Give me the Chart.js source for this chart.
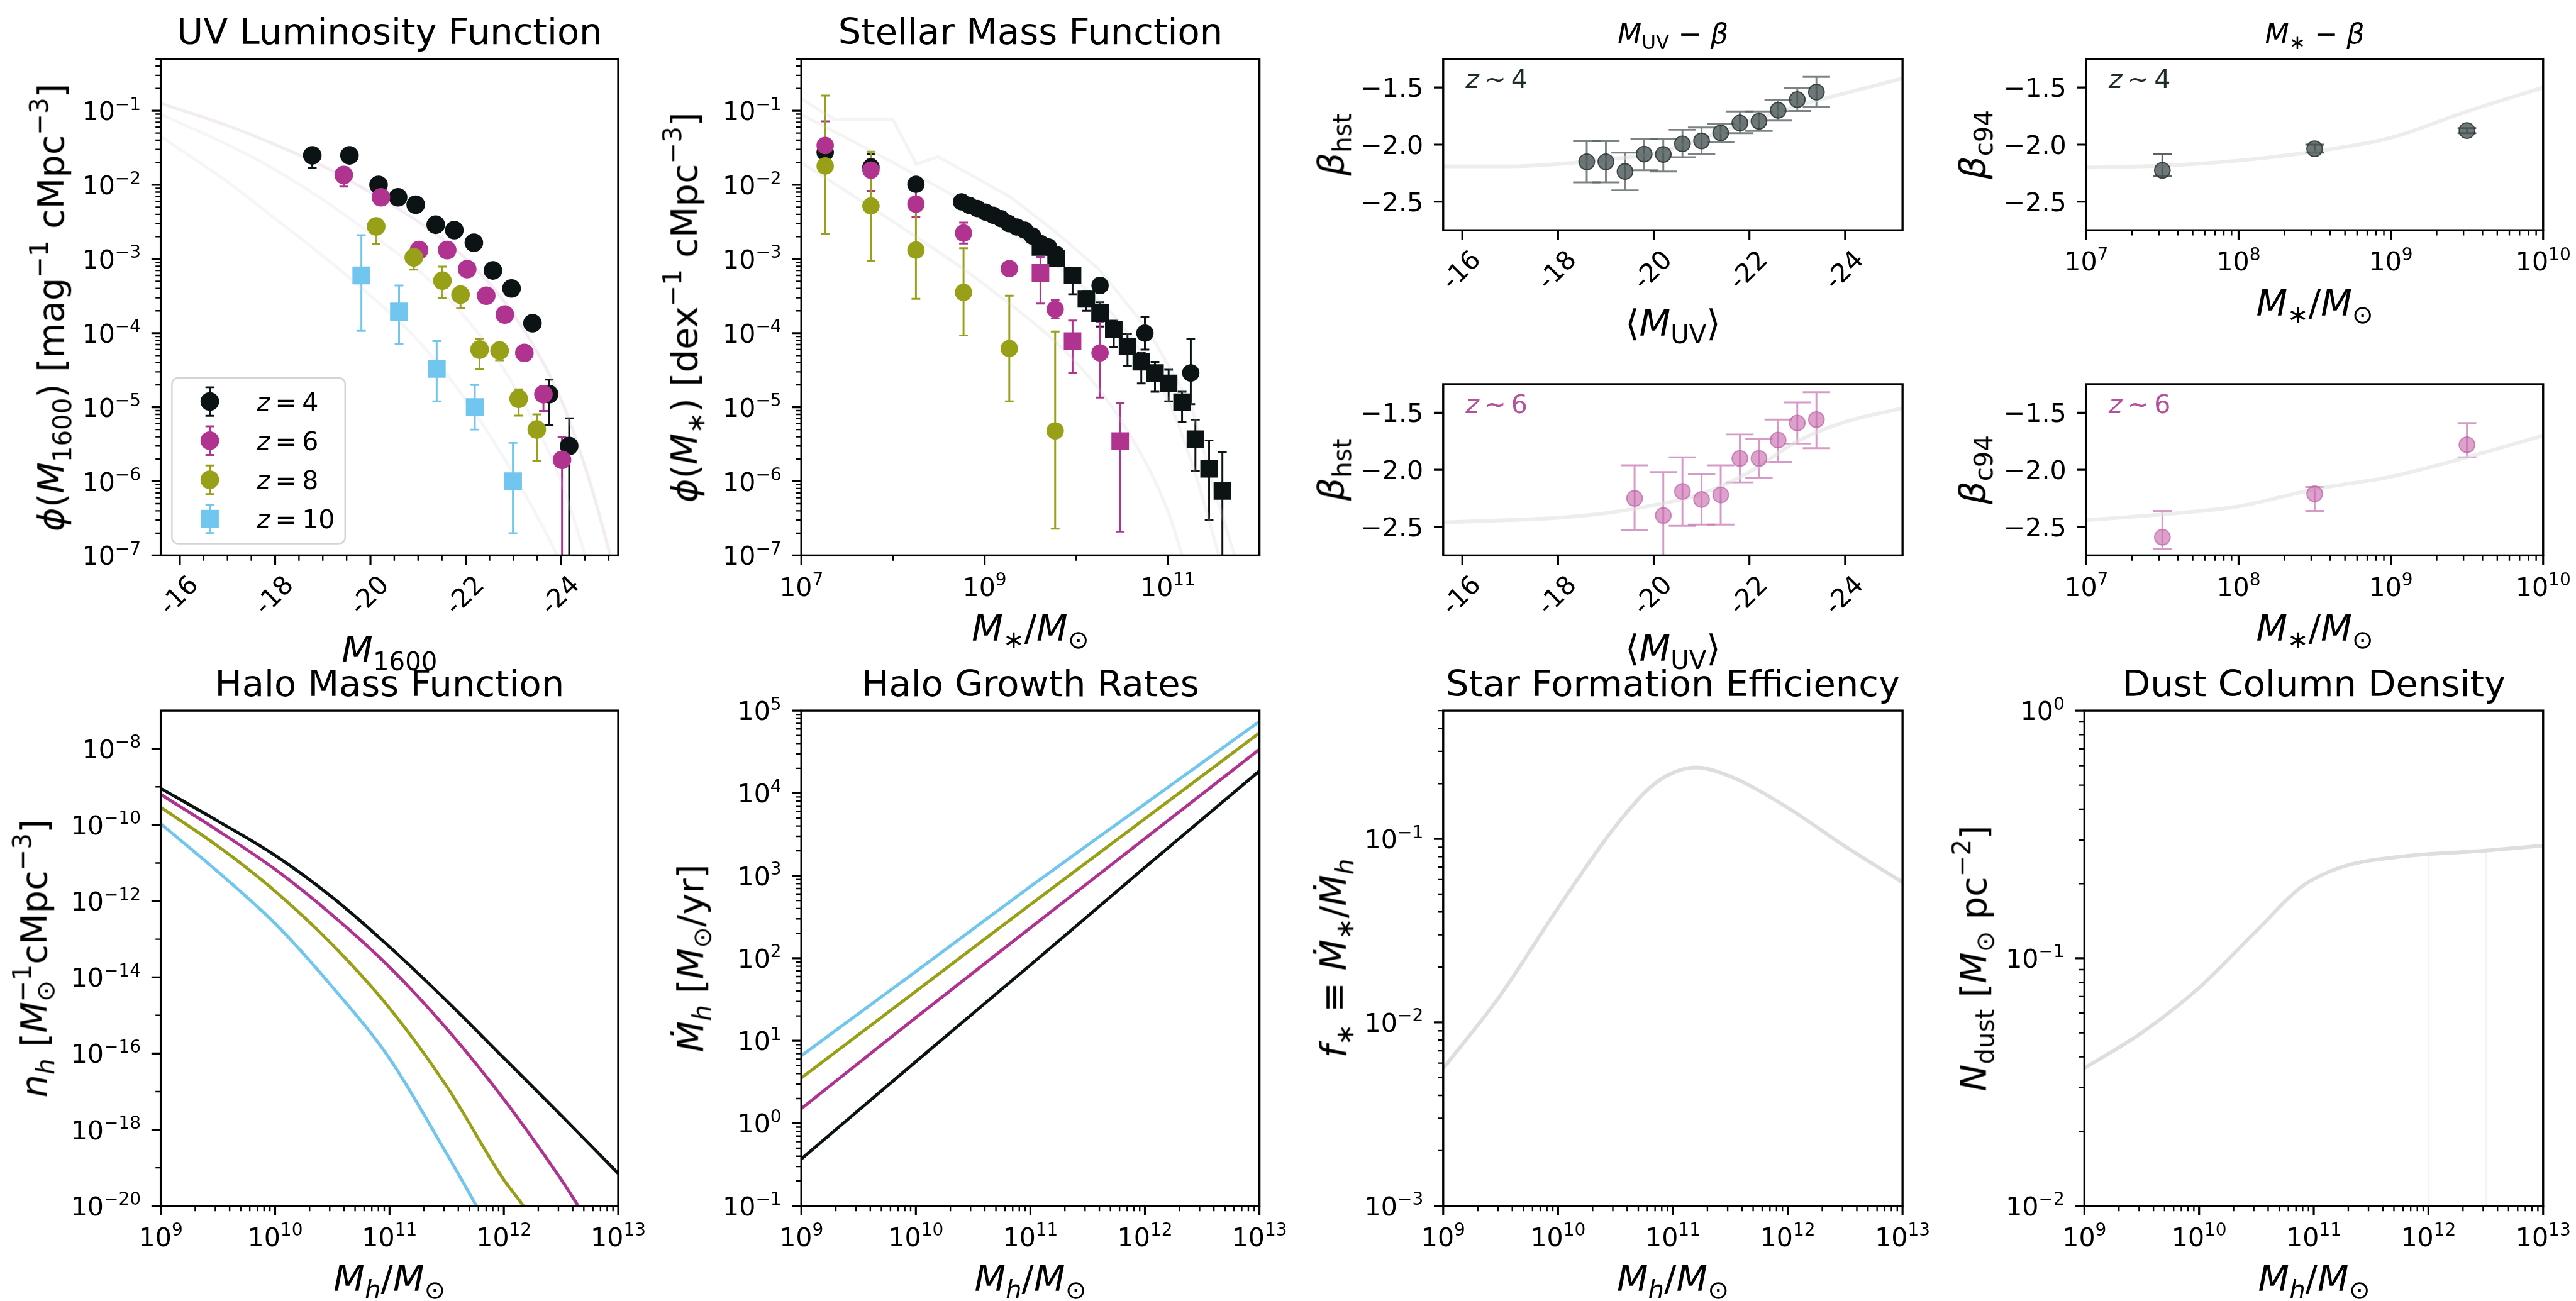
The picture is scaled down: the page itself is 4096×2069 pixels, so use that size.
<!DOCTYPE html>
<html lang="en">
<head>
<meta charset="utf-8">
<title>Luminosity, mass and halo model panels</title>
<script src="https://cdn.jsdelivr.net/npm/chart.js@4.4.1/dist/chart.umd.min.js"></script>
<style>
  html, body { margin: 0; padding: 0; background: #fff; overflow: hidden; }
  #fig { position: relative; width: 4096px; height: 2069px; overflow: hidden; background: #fff;
         font-family: "DejaVu Sans", sans-serif; color: #000; }
  #fig canvas { position: absolute; }
  .lb { position: absolute; white-space: nowrap; line-height: 1; z-index: 2; }
  .lb i { font-style: italic; }
  .lb sub, .lb sup { font-size: 0.7em; line-height: 0; vertical-align: baseline; position: relative; }
  .lb sub { top: 0.3em; }
  .lb sup { top: -0.62em; }
  .lb sup.o { margin-left: -0.84em; }
  .rot { transform: translate(-50%, -50%) rotate(-90deg); }
  .ctr { transform: translateX(-50%); }
</style>
</head>
<body>
<div id="fig"></div>
<script>
const S = 0.987;

// colours per redshift
const colZ4 = '#0b1315';
const colZ6 = '#b0348f';
const colZ8 = '#97a016';
const colZ10 = '#70c6ee';

// ---- UV luminosity function ----
const uvMagZ4 = [-18.78, -19.56, -20.17, -20.58, -20.95, -21.37, -21.76, -22.17, -22.57, -22.96, -23.40, -23.75, -24.17];
const uvPhiZ4 = [2.5e-2, 2.5e-2, 1.0e-2, 6.8e-3, 5.4e-3, 2.9e-3, 2.45e-3, 1.66e-3, 7.0e-4, 4.0e-4, 1.36e-4, 1.5e-5, 3.0e-6];
const uvLoZ4  = [1.7e-2, 2.1e-2, 8.5e-3, 5.9e-3, 4.7e-3, 2.5e-3, 2.1e-3, 1.42e-3, 5.9e-4, 3.3e-4, 1.1e-4, 5.8e-6, 1e-9];
const uvHiZ4  = [3.0e-2, 2.9e-2, 1.15e-2, 7.7e-3, 6.1e-3, 3.3e-3, 2.8e-3, 1.9e-3, 8.2e-4, 4.8e-4, 1.6e-4, 2.35e-5, 7.1e-6];

const uvMagZ6 = [-19.44, -20.22, -21.02, -21.61, -22.03, -22.43, -22.82, -23.23, -23.63, -24.02];
const uvPhiZ6 = [1.36e-2, 6.8e-3, 1.32e-3, 1.32e-3, 7.3e-4, 3.2e-4, 1.78e-4, 5.4e-5, 1.5e-5, 1.95e-6];
const uvLoZ6  = [9.5e-3, 5.9e-3, 1.15e-3, 1.15e-3, 6.4e-4, 2.8e-4, 1.55e-4, 4.6e-5, 8.9e-6, 1e-9];
const uvHiZ6  = [1.6e-2, 7.8e-3, 1.5e-3, 1.5e-3, 8.3e-4, 3.7e-4, 2.0e-4, 6.2e-5, 1.8e-5, 4.0e-6];

const uvMagZ8 = [-20.12, -20.91, -21.51, -21.89, -22.29, -22.71, -23.11, -23.49];
const uvPhiZ8 = [2.75e-3, 1.05e-3, 5.1e-4, 3.3e-4, 6.0e-5, 5.8e-5, 1.3e-5, 5.0e-6];
const uvLoZ8  = [1.6e-3, 7.2e-4, 3.0e-4, 2.2e-4, 3.3e-5, 4.3e-5, 7.7e-6, 1.9e-6];
const uvHiZ8  = [3.5e-3, 1.3e-3, 7.9e-4, 4.0e-4, 8.3e-5, 7.4e-5, 1.74e-5, 8.0e-6];

const uvMagZ10 = [-19.81, -20.60, -21.39, -22.19, -22.99];
const uvPhiZ10 = [6.0e-4, 1.95e-4, 3.3e-5, 1.0e-5, 1.0e-6];
const uvLoZ10  = [1.07e-4, 7.1e-5, 1.2e-5, 5.0e-6, 2.0e-7];
const uvHiZ10  = [2.1e-3, 4.4e-4, 7.8e-5, 2.0e-5, 3.3e-6];

// faint model curves behind the UV points
const uvModelMag = [-15.6, -17, -18, -19, -20, -21, -22, -23, -24, -24.6, -25.2];
const uvModelA = [0.126, 0.063, 0.035, 0.018, 7.9e-3, 3.2e-3, 1.0e-3, 1.8e-4, 1.26e-5, 1.0e-6, 4.0e-8];
const uvModelB = [8.9e-2, 3.5e-2, 1.6e-2, 6.3e-3, 2.2e-3, 7.1e-4, 1.6e-4, 2.0e-5, 1.0e-6, 6.3e-8, 3.2e-9];
const uvModelC = [4.5e-2, 1.1e-2, 3.5e-3, 1.1e-3, 3.2e-4, 7.9e-5, 1.26e-5, 1.26e-6, 7.9e-8, 1e-8, 1e-9];

// ---- stellar mass function ----
const smMassZ4c = [1.82e7, 5.75e7, 1.78e8, 5.6e8, 6.8e8, 8.3e8, 1.02e9, 1.24e9, 1.51e9, 1.84e9, 2.25e9, 2.74e9, 3.34e9, 4.08e9, 4.98e9, 6.07e9, 1.82e10, 5.62e10, 1.78e11];
const smPhiZ4c  = [2.75e-2, 1.74e-2, 1.02e-2, 5.9e-3, 5.3e-3, 4.8e-3, 4.3e-3, 3.9e-3, 3.5e-3, 3.0e-3, 2.7e-3, 2.45e-3, 2.04e-3, 1.62e-3, 1.45e-3, 1.15e-3, 4.4e-4, 1.0e-4, 2.9e-5];
const smLoZ4c   = [2.2e-2, 1.45e-2, 8.8e-3, 5.4e-3, 4.9e-3, 4.4e-3, 3.9e-3, 3.5e-3, 3.2e-3, 2.7e-3, 2.4e-3, 2.2e-3, 1.8e-3, 1.4e-3, 1.25e-3, 9.8e-4, 3.5e-4, 6.0e-5, 1.1e-5];
const smHiZ4c   = [3.3e-2, 2.6e-2, 1.2e-2, 6.4e-3, 5.8e-3, 5.2e-3, 4.7e-3, 4.3e-3, 3.8e-3, 3.3e-3, 3.0e-3, 2.7e-3, 2.3e-3, 1.85e-3, 1.65e-3, 1.35e-3, 5.4e-4, 1.66e-4, 8.3e-5];

const smMassZ4s = [4.07e9, 6.03e9, 9.12e9, 1.29e10, 1.82e10, 2.57e10, 3.63e10, 5.13e10, 7.24e10, 1.02e11, 1.43e11, 2.0e11, 2.82e11, 3.94e11];
const smPhiZ4s  = [1.45e-3, 1.02e-3, 6.0e-4, 2.9e-4, 1.86e-4, 1.12e-4, 6.6e-5, 4.1e-5, 2.9e-5, 2.1e-5, 1.17e-5, 3.7e-6, 1.48e-6, 7.4e-7];
const smLoZ4s   = [1.25e-3, 8.6e-4, 3.35e-4, 2.0e-4, 1.23e-4, 6.5e-5, 3.6e-5, 2.1e-5, 1.62e-5, 1.2e-5, 6.3e-6, 1.38e-6, 3.0e-7, 1e-9];
const smHiZ4s   = [1.65e-3, 1.2e-3, 7.6e-4, 3.7e-4, 2.6e-4, 1.47e-4, 9.8e-5, 5.5e-5, 4.1e-5, 3.2e-5, 1.62e-5, 6.8e-6, 3.55e-6, 2.5e-6];

const smMassZ6c = [1.82e7, 5.75e7, 1.78e8, 5.89e8, 1.86e9, 5.89e9, 1.82e10];
const smPhiZ6c  = [3.4e-2, 1.58e-2, 5.5e-3, 2.24e-3, 7.4e-4, 2.1e-4, 5.4e-5];
const smLoZ6c   = [2.4e-2, 8.3e-3, 3.7e-3, 1.62e-3, 6.3e-4, 1.58e-4, 1.35e-5];
const smHiZ6c   = [7.2e-2, 2.24e-2, 8.3e-3, 3.1e-3, 8.5e-4, 2.8e-4, 1.4e-4];

const smMassZ6s = [4.07e9, 9.12e9, 3.02e10];
const smPhiZ6s  = [6.5e-4, 7.8e-5, 3.5e-6];
const smLoZ6s   = [2.5e-4, 2.9e-5, 2.1e-7];
const smHiZ6s   = [1.07e-3, 1.48e-4, 1.14e-5];

const smMassZ8 = [1.82e7, 5.75e7, 1.78e8, 5.89e8, 1.86e9, 5.89e9];
const smPhiZ8  = [1.8e-2, 5.2e-3, 1.32e-3, 3.55e-4, 6.2e-5, 4.8e-6];
const smLoZ8   = [2.2e-3, 9.5e-4, 2.9e-4, 9.3e-5, 1.2e-5, 2.3e-7];
const smHiZ8   = [1.6e-1, 2.8e-2, 5.5e-3, 1.4e-3, 3.2e-4, 1.05e-4];

// faint model curves behind the mass function
const smModelMassA = [1e7, 2.3e7, 1e8, 1.8e8, 3.1e8, 1.9e9, 6e9, 1.8e10, 6e10, 1.8e11, 3.2e11, 6e11];
const smModelA     = [0.145, 0.076, 0.076, 0.019, 0.024, 6.9e-3, 2.3e-3, 7.1e-4, 1.12e-4, 1.07e-5, 7.9e-7, 6.3e-8];
const smModelMassB = [1e7, 1e8, 1e9, 1e10, 3.16e10, 1e11, 2e11, 4e11];
const smModelB     = [0.089, 0.02, 4.0e-3, 5.0e-4, 1.26e-4, 1.26e-5, 1.26e-6, 6.3e-8];
const smModelMassC = [1e7, 1e8, 1e9, 1e10, 3.16e10, 1e11, 1.6e11];
const smModelC     = [0.02, 3.2e-3, 4.5e-4, 4.0e-5, 6.3e-6, 4.0e-7, 6.3e-8];

// ---- UV slope vs magnitude ----
const betaMagZ4 = [-18.6, -19.0, -19.4, -19.8, -20.2, -20.6, -21.0, -21.4, -21.8, -22.2, -22.6, -23.0, -23.4];
const betaHstZ4 = [-2.15, -2.15, -2.235, -2.083, -2.086, -1.993, -1.967, -1.897, -1.811, -1.795, -1.699, -1.606, -1.54];
const betaHstHiZ4 = [-1.97, -1.97, -2.07, -1.95, -1.95, -1.87, -1.85, -1.82, -1.71, -1.71, -1.606, -1.503, -1.407];
const betaHstLoZ4 = [-2.33, -2.33, -2.40, -2.225, -2.235, -2.11, -2.086, -1.98, -1.90, -1.88, -1.79, -1.705, -1.67];

const betaMagZ6 = [-19.6, -20.2, -20.6, -21.0, -21.4, -21.8, -22.2, -22.6, -23.0, -23.4];
const betaHstZ6 = [-2.25, -2.40, -2.19, -2.26, -2.22, -1.90, -1.90, -1.74, -1.59, -1.56];
const betaHstHiZ6 = [-1.96, -2.02, -1.89, -2.04, -1.96, -1.69, -1.73, -1.56, -1.41, -1.32];
const betaHstLoZ6 = [-2.53, -2.95, -2.49, -2.48, -2.48, -2.11, -2.07, -1.93, -1.77, -1.81];

const betaModelMag = [-15.6, -17, -18, -19, -20, -21, -22, -23, -24, -25.2];
const betaModelZ4 = [-2.19, -2.19, -2.17, -2.13, -2.08, -1.95, -1.80, -1.66, -1.55, -1.42];
const betaModelZ6 = [-2.46, -2.44, -2.42, -2.38, -2.31, -2.21, -2.02, -1.75, -1.58, -1.46];

// ---- UV slope vs stellar mass ----
const betaMass = [3.16e7, 3.16e8, 3.16e9];
const betaC94Z4 = [-2.225, -2.036, -1.877];
const betaC94HiZ4 = [-2.086, -2.0, -1.855];
const betaC94LoZ4 = [-2.275, -2.07, -1.90];
const betaC94Z6 = [-2.59, -2.21, -1.78];
const betaC94HiZ6 = [-2.36, -2.15, -1.59];
const betaC94LoZ6 = [-2.69, -2.36, -1.89];

const betaModelMass = [1e7, 3.16e7, 1e8, 3.16e8, 1e9, 3.16e9, 1e10];
const betaMassModelZ4 = [-2.20, -2.185, -2.14, -2.06, -1.94, -1.71, -1.50];
const betaMassModelZ6 = [-2.44, -2.39, -2.32, -2.17, -2.06, -1.89, -1.70];

// ---- halo mass function ----
const hmfMassZ4 = [1e9, 3.16e9, 1e10, 3.16e10, 1e11, 3.16e11, 1e12, 3.16e12, 1e13];
const hmfZ4 = [9.1e-10, 1.26e-10, 1.58e-11, 1.26e-12, 6.3e-14, 2.4e-15, 7.6e-17, 2.4e-18, 7.1e-20];
const hmfMassZ6 = [1e9, 3.16e9, 1e10, 3.16e10, 1e11, 3.16e11, 1e12, 3.16e12, 4.47e12, 5e12];
const hmfZ6 = [6.3e-10, 7.1e-11, 6.8e-12, 4.3e-13, 1.86e-14, 4.5e-16, 6.3e-18, 5.0e-20, 1.0e-20, 5.9e-21];
const hmfMassZ8 = [1e9, 3.16e9, 1e10, 3.16e10, 1e11, 3.16e11, 1e12, 1.48e12, 1.78e12];
const hmfZ8 = [2.9e-10, 2.75e-11, 1.82e-12, 7.2e-14, 1.55e-15, 1.38e-17, 4.8e-20, 1.0e-20, 4.0e-21];
const hmfMassZ10 = [1e9, 3.16e9, 1e10, 3.16e10, 1e11, 3.16e11, 5.75e11, 7.08e11];
const hmfZ10 = [1.07e-10, 5.9e-12, 2.57e-13, 5.6e-15, 7.4e-17, 2.34e-19, 1.0e-20, 3.2e-21];

// ---- halo growth rates ----
const growthMass = [1e9, 1e10, 1e11, 1e12, 1e13];
const growthZ4 = [0.37, 5.6, 83, 1260, 18600];
const growthZ6 = [1.51, 19.1, 234, 2820, 33900];
const growthZ8 = [3.55, 39.8, 447, 4900, 53700];
const growthZ10 = [6.6, 69, 741, 7410, 74100];

// ---- star formation efficiency ----
const sfeMass = [1e9, 3.16e9, 1e10, 3.16e10, 6.3e10, 1e11, 1.58e11, 3.16e11, 1e12, 3.16e12, 1e13];
const sfeEff = [5.6e-3, 1.41e-2, 4.2e-2, 0.117, 0.19, 0.229, 0.245, 0.219, 0.148, 0.091, 0.058];

// ---- dust column density ----
const dustMass = [1e9, 3.16e9, 1e10, 3.16e10, 7.9e10, 1.78e11, 5.6e11, 3.16e12, 1e13];
const dustCol = [0.036, 0.050, 0.076, 0.129, 0.195, 0.234, 0.257, 0.272, 0.285];
const dustMarkMass = [1e12, 3.16e12];
const dustMarkTop = [0.262, 0.272];

// ---- tick helpers ----
function decades(e0, e1, step = 1) { const t = []; for (let e = e0; e <= e1; e += step) t.push(Math.pow(10, e)); return t; }
function exps(e0, e1, step = 1) { const t = []; for (let e = e0; e <= e1; e += step) t.push(e); return t; }
function logMinor(e0, e1) { const t = []; for (let e = e0; e <= e1; e++) for (let k = 2; k <= 9; k++) t.push(k * Math.pow(10, e)); return t; }
const magTicks = [-16, -18, -20, -22, -24];
const magLabels = ['-16', '-18', '-20', '-22', '-24'];
const magMinor = [];
for (let m = -15.5; m >= -25; m -= 0.5) if (m % 2 !== 0) magMinor.push(m);
const betaTicks = [-1.5, -2.0, -2.5];
const betaLabels = ['\u22121.5', '\u22122.0', '\u22122.5'];

const pts = (xs, ys) => xs.map((x, i) => ({ x, y: ys[i] }));

function markers(xs, ys, lo, hi, o) {
  return {
    data: pts(xs, ys), errLo: lo, errHi: hi,
    pointStyle: o.style || 'circle', pointRadius: o.r * S,
    backgroundColor: o.fill, borderColor: o.edge || o.fill, borderWidth: (o.bw || 0) * S,
    errColor: o.err || o.fill, errWidth: o.ew || 3, cap: o.cap || 7, order: o.order
  };
}
function curve(xs, ys, color, w, order, smooth = true) {
  return {
    data: pts(xs, ys), showLine: true, pointRadius: 0, borderColor: color, borderWidth: w * S,
    cubicInterpolationMode: smooth ? 'monotone' : 'default', tension: 0, order, clip: 0
  };
}

// ---- canvas drawing helpers ----
const TICK_F = 41.7 * S;
function tickText(ctx, lab, x, y, F, align) {
  ctx.textBaseline = 'alphabetic';
  if (typeof lab === 'number') {
    const e = lab < 0 ? '\u2212' + (-lab) : String(lab);
    const Fe = F * 0.68;
    ctx.font = `${F}px "DejaVu Sans"`;
    const wb = ctx.measureText('10').width;
    ctx.font = `${Fe}px "DejaVu Sans"`;
    const we = ctx.measureText(e).width;
    const x0 = align === 'right' ? x - wb - we : x - (wb + we) / 2;
    ctx.textAlign = 'left';
    ctx.font = `${F}px "DejaVu Sans"`;
    ctx.fillText('10', x0, y);
    ctx.font = `${Fe}px "DejaVu Sans"`;
    ctx.fillText(e, x0 + wb, y - 0.40 * F);
  } else {
    ctx.font = `${F}px "DejaVu Sans"`;
    ctx.textAlign = align;
    ctx.fillText(lab, x, y);
  }
}
function mathText(ctx, parts, x, y, F, color) {
  ctx.fillStyle = color;
  ctx.textAlign = 'left';
  ctx.textBaseline = 'alphabetic';
  parts.forEach(([s, it]) => {
    ctx.font = `${it ? 'italic ' : ''}${F}px "DejaVu Sans"`;
    ctx.fillText(s, x, y);
    x += ctx.measureText(s).width + 0.2 * F;
  });
}
function drawLegend(ctx, a, L) {
  const x = a.left + L.x * S, y = a.top + L.y * S;
  ctx.beginPath();
  ctx.roundRect(x, y, L.w * S, L.h * S, 10 * S);
  ctx.fillStyle = 'rgba(255,255,255,0.85)';
  ctx.fill();
  ctx.lineWidth = 2.5 * S;
  ctx.strokeStyle = '#d4d4d4';
  ctx.stroke();
  L.rows.forEach(([dy, color, shape, z]) => {
    const cx = a.left + L.mx * S, cy = a.top + dy * S, h = 23 * S, c = 7 * S;
    ctx.strokeStyle = color;
    ctx.lineWidth = 3 * S;
    ctx.beginPath();
    ctx.moveTo(cx, cy - h); ctx.lineTo(cx, cy + h);
    ctx.moveTo(cx - c, cy - h); ctx.lineTo(cx + c, cy - h);
    ctx.moveTo(cx - c, cy + h); ctx.lineTo(cx + c, cy + h);
    ctx.stroke();
    ctx.fillStyle = color;
    ctx.beginPath();
    if (shape === 'rect') ctx.rect(cx - 14.5 * S, cy - 14.5 * S, 29 * S, 29 * S);
    else ctx.arc(cx, cy, 15 * S, 0, 2 * Math.PI);
    ctx.fill();
    mathText(ctx, [['z', true], ['=', false], [z, false]], a.left + L.tx * S, cy + 0.365 * TICK_F, TICK_F, '#000');
  });
}

// matplotlib-style frame: spines, outward ticks, labels, legend and notes
const mplAxes = {
  id: 'mplAxes',
  beforeDatasetsDraw(chart) {
    const { ctx, chartArea: a } = chart;
    const ys = chart.scales.y;
    ctx.save();
    ctx.beginPath();
    ctx.rect(a.left, a.top, a.right - a.left, a.bottom - a.top);
    ctx.clip();
    chart.data.datasets.forEach((ds, i) => {
      if (!ds.errLo) return;
      const meta = chart.getDatasetMeta(i);
      const cap = ds.cap * S;
      ctx.strokeStyle = ds.errColor;
      ctx.lineWidth = ds.errWidth * S;
      meta.data.forEach((pt, j) => {
        const yl = ys.getPixelForValue(ds.errLo[j]);
        const yh = ys.getPixelForValue(ds.errHi[j]);
        ctx.beginPath();
        ctx.moveTo(pt.x, yl); ctx.lineTo(pt.x, yh);
        ctx.moveTo(pt.x - cap, yl); ctx.lineTo(pt.x + cap, yl);
        ctx.moveTo(pt.x - cap, yh); ctx.lineTo(pt.x + cap, yh);
        ctx.stroke();
      });
    });
    ctx.restore();
  },
  afterDraw(chart) {
    const o = chart.options.plugins.mplAxes;
    const { ctx, chartArea: a, scales } = chart;
    ctx.save();
    ctx.strokeStyle = '#000';
    ctx.fillStyle = '#000';
    const ticks = (axis, vals, len, w) => {
      const sc = scales[axis];
      ctx.lineWidth = w * S;
      ctx.beginPath();
      vals.forEach(v => {
        const p = sc.getPixelForValue(v);
        if (axis === 'x') {
          if (p < a.left - 1 || p > a.right + 1) return;
          ctx.moveTo(p, a.bottom); ctx.lineTo(p, a.bottom + len * S);
        } else {
          if (p < a.top - 1 || p > a.bottom + 1) return;
          ctx.moveTo(a.left, p); ctx.lineTo(a.left - len * S, p);
        }
      });
      ctx.stroke();
    };
    ['x', 'y'].forEach(k => {
      ticks(k, o[k].minor || [], 8.5, 2.4);
      ticks(k, o[k].major, 15, 3.2);
    });
    ctx.lineWidth = 3.4 * S;
    ctx.strokeRect(a.left, a.top, a.right - a.left, a.bottom - a.top);

    ctx.fillStyle = '#000';
    o.x.major.forEach((v, i) => {
      const p = scales.x.getPixelForValue(v);
      if (o.x.rotate) {
        ctx.save();
        ctx.translate(p, a.bottom + 66 * S);
        ctx.rotate(-Math.PI / 4);
        ctx.font = `${TICK_F}px "DejaVu Sans"`;
        ctx.textAlign = 'center';
        ctx.textBaseline = 'middle';
        ctx.fillText(o.x.labels[i], 0, 0);
        ctx.restore();
      } else {
        tickText(ctx, o.x.labels[i], p, a.bottom + 65 * S, TICK_F, 'center');
      }
    });
    o.y.major.forEach((v, i) => {
      const p = scales.y.getPixelForValue(v);
      tickText(ctx, o.y.labels[i], a.left - 32 * S, p + 0.365 * TICK_F, TICK_F, 'right');
    });
    if (o.legend) drawLegend(ctx, a, o.legend);
    if (o.note) {
      mathText(ctx, [['z', true], ['\u223C', false], [o.note.text, false]],
        a.left + 36 * S, a.top + 47 * S, TICK_F, o.note.color);
    }
    ctx.restore();
  }
};

// ---- panel factory: chart area placed at rect (x0, y0, x1, y1) ----
const FIG = document.getElementById('fig');
const MARGIN = { l: 240, r: 95, t: 30, b: 135 };
function panel(rect, datasets, scales, axes) {
  const [x0, y0, x1, y1] = rect;
  const left = Math.floor((x0 - MARGIN.l) * S), top = Math.floor((y0 - MARGIN.t) * S);
  const right = Math.ceil((x1 + MARGIN.r) * S), bottom = Math.ceil((y1 + MARGIN.b) * S);
  const cv = document.createElement('canvas');
  cv.width = right - left;
  cv.height = bottom - top;
  cv.style.left = left + 'px';
  cv.style.top = top + 'px';
  FIG.appendChild(cv);
  Object.values(scales).forEach(s => { s.display = false; s.bounds = 'data'; });
  return new Chart(cv, {
    type: 'scatter',
    data: { datasets },
    options: {
      responsive: false, animation: false, devicePixelRatio: 1, events: [],
      layout: { padding: { left: x0 * S - left, top: y0 * S - top, right: right - x1 * S, bottom: bottom - y1 * S } },
      plugins: { legend: { display: false }, tooltip: { enabled: false }, mplAxes: axes },
      scales
    },
    plugins: [mplAxes]
  });
}

const magScale = { type: 'linear', min: -25.2, max: -15.6, reverse: true };
const logY7 = { type: 'logarithmic', min: 1e-7, max: 0.5 };
const betaY = { type: 'linear', min: -2.75, max: -1.25 };
const haloX = { type: 'logarithmic', min: 1e9, max: 1e13 };
const haloXAxis = { major: decades(9, 13), labels: exps(9, 13), minor: logMinor(9, 12) };
const phiYAxis = { major: decades(-7, -1), labels: exps(-7, -1), minor: logMinor(-7, -1) };
const faint = 'rgba(200,200,200,0.2)';
const betaFaint = 'rgba(222,222,222,0.55)';

// UV luminosity function
panel([259, 95, 996, 895], [
  curve(uvModelMag, uvModelA, 'rgba(205,180,205,0.24)', 5, 20),
  curve(uvModelMag, uvModelB, 'rgba(215,205,215,0.2)', 5, 20),
  curve(uvModelMag, uvModelC, 'rgba(205,212,225,0.2)', 5, 20),
  markers(uvMagZ4, uvPhiZ4, uvLoZ4, uvHiZ4, { fill: colZ4, r: 15, order: 4 }),
  markers(uvMagZ6, uvPhiZ6, uvLoZ6, uvHiZ6, { fill: colZ6, r: 15, order: 3 }),
  markers(uvMagZ8, uvPhiZ8, uvLoZ8, uvHiZ8, { fill: colZ8, r: 15, order: 2 }),
  markers(uvMagZ10, uvPhiZ10, uvLoZ10, uvHiZ10, { fill: colZ10, r: 20.5, style: 'rect', order: 1 })
], { x: { ...magScale }, y: { ...logY7 } }, {
  x: { major: magTicks, labels: magLabels, minor: magMinor, rotate: true },
  y: phiYAxis,
  legend: { x: 18, y: 514, w: 279, h: 267, mx: 79, tx: 154,
    rows: [[552, colZ4, 'circle', '4'], [615, colZ6, 'circle', '6'], [678, colZ8, 'circle', '8'], [741, colZ10, 'rect', '10']] }
});

// stellar mass function
panel([1291, 95, 2029, 895], [
  curve(smModelMassA, smModelA, faint, 5, 20, false),
  curve(smModelMassB, smModelB, faint, 5, 20),
  curve(smModelMassC, smModelC, faint, 5, 20),
  markers(smMassZ4c, smPhiZ4c, smLoZ4c, smHiZ4c, { fill: colZ4, r: 14, order: 6 }),
  markers(smMassZ4s, smPhiZ4s, smLoZ4s, smHiZ4s, { fill: colZ4, r: 20, style: 'rect', order: 5 }),
  markers(smMassZ6c, smPhiZ6c, smLoZ6c, smHiZ6c, { fill: colZ6, r: 14, order: 4 }),
  markers(smMassZ6s, smPhiZ6s, smLoZ6s, smHiZ6s, { fill: colZ6, r: 20, style: 'rect', order: 3 }),
  markers(smMassZ8, smPhiZ8, smLoZ8, smHiZ8, { fill: colZ8, r: 14, order: 2 })
], { x: { type: 'logarithmic', min: 1e7, max: 1e12 }, y: { ...logY7 } }, {
  x: { major: [1e7, 1e9, 1e11], labels: [7, 9, 11], minor: [1e8, 1e10] },
  y: phiYAxis
});

// UV slope vs magnitude, z~4 and z~6
const betaMagAxes = (note) => ({
  x: { major: magTicks, labels: magLabels, rotate: true },
  y: { major: betaTicks, labels: betaLabels },
  note
});
panel([2325, 95, 3065, 371], [
  curve(betaModelMag, betaModelZ4, betaFaint, 6, 20),
  markers(betaMagZ4, betaHstZ4, betaHstLoZ4, betaHstHiZ4,
    { fill: 'rgba(70,82,82,0.78)', edge: 'rgba(45,56,56,0.9)', bw: 2, err: 'rgba(90,100,100,0.8)', ew: 3, cap: 22, r: 12.5, order: 1 })
], { x: { ...magScale }, y: { ...betaY } }, betaMagAxes({ text: '4', color: '#1f2c2c' }));

panel([2325, 619, 3065, 895], [
  curve(betaModelMag, betaModelZ6, betaFaint, 6, 20),
  markers(betaMagZ6, betaHstZ6, betaHstLoZ6, betaHstHiZ6,
    { fill: 'rgba(196,100,170,0.6)', edge: 'rgba(190,95,165,0.7)', bw: 2, err: 'rgba(200,120,180,0.75)', ew: 3, cap: 22, r: 12.5, order: 1 })
], { x: { ...magScale }, y: { ...betaY } }, betaMagAxes({ text: '6', color: '#b5509c' }));

// UV slope vs stellar mass, z~4 and z~6
const betaMassAxes = (note) => ({
  x: { major: decades(7, 10), labels: exps(7, 10), minor: logMinor(7, 9) },
  y: { major: betaTicks, labels: betaLabels },
  note
});
panel([3361, 95, 4097, 371], [
  curve(betaModelMass, betaMassModelZ4, betaFaint, 6, 20),
  markers(betaMass, betaC94Z4, betaC94LoZ4, betaC94HiZ4,
    { fill: 'rgba(70,82,82,0.78)', edge: 'rgba(45,56,56,0.9)', bw: 2, err: 'rgba(60,72,72,0.85)', ew: 3, cap: 15, r: 12.5, order: 1 })
], { x: { type: 'logarithmic', min: 1e7, max: 1e10 }, y: { ...betaY } }, betaMassAxes({ text: '4', color: '#1f2c2c' }));

panel([3361, 619, 4097, 895], [
  curve(betaModelMass, betaMassModelZ6, betaFaint, 6, 20),
  markers(betaMass, betaC94Z6, betaC94LoZ6, betaC94HiZ6,
    { fill: 'rgba(196,100,170,0.6)', edge: 'rgba(190,95,165,0.7)', bw: 2, err: 'rgba(200,120,180,0.75)', ew: 3, cap: 15, r: 12.5, order: 1 })
], { x: { type: 'logarithmic', min: 1e7, max: 1e10 }, y: { ...betaY } }, betaMassAxes({ text: '6', color: '#b5509c' }));

// halo mass function
panel([259, 1145, 996, 1943], [
  curve(hmfMassZ4, hmfZ4, colZ4, 5, 4),
  curve(hmfMassZ6, hmfZ6, colZ6, 5, 3),
  curve(hmfMassZ8, hmfZ8, colZ8, 5, 2),
  curve(hmfMassZ10, hmfZ10, colZ10, 5, 1)
], { x: { ...haloX }, y: { type: 'logarithmic', min: 1e-20, max: 1e-7 } }, {
  x: haloXAxis,
  y: { major: decades(-20, -8, 2), labels: exps(-20, -8, 2), minor: decades(-19, -9, 2) }
});

// halo growth rates
panel([1291, 1145, 2029, 1943], [
  curve(growthMass, growthZ4, colZ4, 5, 4),
  curve(growthMass, growthZ6, colZ6, 5, 3),
  curve(growthMass, growthZ8, colZ8, 5, 2),
  curve(growthMass, growthZ10, colZ10, 5, 1)
], { x: { ...haloX }, y: { type: 'logarithmic', min: 0.1, max: 1e5 } }, {
  x: haloXAxis,
  y: { major: decades(-1, 5), labels: exps(-1, 5), minor: logMinor(-1, 4) }
});

// star formation efficiency
panel([2325, 1145, 3065, 1943], [
  curve(sfeMass, sfeEff, '#dedede', 6, 1)
], { x: { ...haloX }, y: { type: 'logarithmic', min: 1e-3, max: 0.5 } }, {
  x: haloXAxis,
  y: { major: decades(-3, -1), labels: exps(-3, -1), minor: logMinor(-3, -1) }
});

// dust column density
panel([3358, 1145, 4097, 1943], [
  curve(dustMass, dustCol, '#dedede', 6, 1),
  curve([dustMarkMass[0], dustMarkMass[0]], [0.01, dustMarkTop[0]], 'rgba(228,238,228,0.5)', 3, 5, false),
  curve([dustMarkMass[1], dustMarkMass[1]], [0.01, dustMarkTop[1]], 'rgba(228,238,228,0.5)', 3, 5, false)
], { x: { ...haloX }, y: { type: 'logarithmic', min: 1e-2, max: 1 } }, {
  x: haloXAxis,
  y: { major: decades(-2, 0), labels: exps(-2, 0), minor: logMinor(-2, -1) }
});

// ---- titles and axis labels ----
const LABEL = 58.3, SMALL = 45;
const labels = [
  // [html, x, y, size, mode]  c: centred on baseline y, r: rotated about centre
  ['UV Luminosity Function', 627.5, 72, LABEL, 'c'],
  ['Stellar Mass Function', 1660, 72, LABEL, 'c'],
  ['<i>M</i><sub>UV</sub> \u2212 <i>\u03B2</i>', 2695, 70, SMALL, 'c'],
  ['<i>M</i><sub>\u2217</sub> \u2212 <i>\u03B2</i>', 3729, 70, SMALL, 'c'],
  ['Halo Mass Function', 627.5, 1122, LABEL, 'c'],
  ['Halo Growth Rates', 1660, 1122, LABEL, 'c'],
  ['Star Formation Efficiency', 2695, 1122, LABEL, 'c'],
  ['Dust Column Density', 3728, 1122, LABEL, 'c'],

  ['<i>M</i><sub>1600</sub>', 627.5, 1068, LABEL, 'c'],
  ['<i>M</i><sub>\u2217</sub>/<i>M</i><sub>\u2299</sub>', 1660, 1033, LABEL, 'c'],
  ['\u27E8<i>M</i><sub>UV</sub>\u27E9', 2695, 542, LABEL, 'c'],
  ['\u27E8<i>M</i><sub>UV</sub>\u27E9', 2695, 1066, LABEL, 'c'],
  ['<i>M</i><sub>\u2217</sub>/<i>M</i><sub>\u2299</sub>', 3729, 509, LABEL, 'c'],
  ['<i>M</i><sub>\u2217</sub>/<i>M</i><sub>\u2299</sub>', 3729, 1033, LABEL, 'c'],
  ['<i>M<sub>h</sub></i>/<i>M</i><sub>\u2299</sub>', 627.5, 2081, LABEL, 'c'],
  ['<i>M<sub>h</sub></i>/<i>M</i><sub>\u2299</sub>', 1660, 2081, LABEL, 'c'],
  ['<i>M<sub>h</sub></i>/<i>M</i><sub>\u2299</sub>', 2695, 2081, LABEL, 'c'],
  ['<i>M<sub>h</sub></i>/<i>M</i><sub>\u2299</sub>', 3728, 2081, LABEL, 'c'],

  ['<i>\u03D5</i>(<i>M</i><sub>1600</sub>) [mag<sup>\u22121</sup> cMpc<sup>\u22123</sup>]', 83, 495, LABEL, 'r'],
  ['<i>\u03D5</i>(<i>M</i><sub>\u2217</sub>) [dex<sup>\u22121</sup> cMpc<sup>\u22123</sup>]', 1103, 495, LABEL, 'r'],
  ['<i>\u03B2</i><sub>hst</sub>', 2145, 233, LABEL, 'r'],
  ['<i>\u03B2</i><sub>hst</sub>', 2145, 757, LABEL, 'r'],
  ['<i>\u03B2</i><sub>c94</sub>', 3178, 233, LABEL, 'r'],
  ['<i>\u03B2</i><sub>c94</sub>', 3178, 757, LABEL, 'r'],
  ['<i>n<sub>h</sub></i> [<i>M</i><sub>\u2299</sub><sup class="o">\u22121</sup>cMpc<sup>\u22123</sup>]', 56, 1544, LABEL, 'r'],
  ['<i>\u1E40<sub>h</sub></i> [<i>M</i><sub>\u2299</sub>/yr]', 1113, 1544, LABEL, 'r'],
  ['<i>f</i><sub>\u2217</sub> \u2261 <i>\u1E40</i><sub>\u2217</sub>/<i>\u1E40<sub>h</sub></i>', 2149, 1544, LABEL, 'r'],
  ['<i>N</i><sub>dust</sub> [<i>M</i><sub>\u2299</sub> pc<sup>\u22122</sup>]', 3180, 1544, LABEL, 'r']
];
labels.forEach(([html, x, y, size, mode]) => {
  const d = document.createElement('div');
  d.className = 'lb ' + (mode === 'r' ? 'rot' : 'ctr');
  d.innerHTML = html;
  d.style.fontSize = (size * S) + 'px';
  d.style.left = (x * S) + 'px';
  d.style.top = (mode === 'r' ? y * S : (y - 0.846 * size) * S) + 'px';
  FIG.appendChild(d);
});
</script>
</body>
</html>
